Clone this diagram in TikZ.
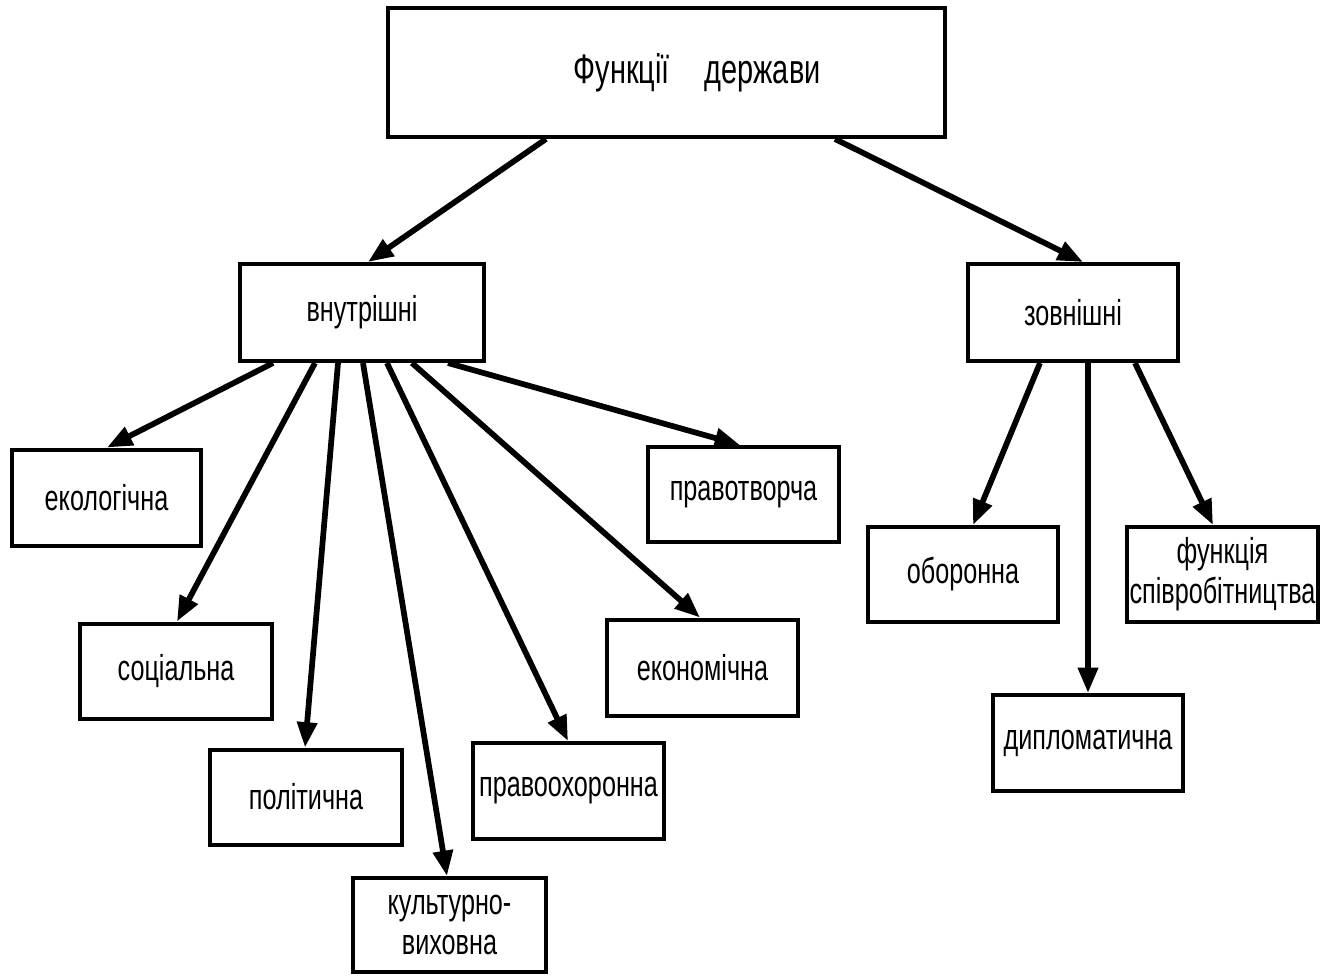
\documentclass[tikz,border=0pt]{standalone}
\usepackage{fontspec}
\setmainfont{Liberation Sans}[FakeStretch=0.7]
\usetikzlibrary{arrows.meta,calc}
\tikzset{
  box/.style={draw, line width=3pt, fill=white, inner sep=0pt, align=center,
    font=\fontsize{27}{30}\selectfont},
  arr/.style={line width=4.3pt, -{Triangle[length=19pt,width=14.5pt]}}
}
\begin{document}
\begin{tikzpicture}[x=0.75pt,y=-0.75pt]
\fill[white] (0,0) rectangle (1328,976);
\useasboundingbox (0,0) rectangle (1328,976);
\node[box, minimum width=417.75pt, minimum height=96.75pt, font=\fontsize{31}{34}\selectfont] (top) at (666.5,72.5) {\hspace*{46pt}Функції\hspace{26pt}держави};
\node[box, minimum width=183pt, minimum height=72.75pt] (vn) at (362,312.5) {внутрішні};
\node[box, minimum width=157.5pt, minimum height=72.75pt] (zv) at (1073,312.5) {зовнішні};
\node[box, minimum width=141.75pt, minimum height=72pt] (eko) at (106.5,497.5) {екологічна};
\node[box, minimum width=144pt, minimum height=71.25pt] (soc) at (176,671) {соціальна};
\node[box, minimum width=144pt, minimum height=71.25pt] (pol) at (306,797) {політична};
\node[box, minimum width=144.75pt, minimum height=70.5pt] (kult) at (449.5,925) {культурно-\\виховна};
\node[box, minimum width=143.25pt, minimum height=72pt] (pravooh) at (568.5,791) {правоохоронна};
\node[box, minimum width=143.25pt, minimum height=72pt] (ekon) at (702.5,667.5) {економічна};
\node[box, minimum width=143.25pt, minimum height=71.25pt] (pravotv) at (743.5,494.5) {правотворча};
\node[box, minimum width=142.5pt, minimum height=71.25pt] (obor) at (963,574.5) {оборонна};
\node[box, minimum width=143.25pt, minimum height=71.25pt] (func) at (1222.5,574.5) {функція\\співробітництва};
\node[box, minimum width=142.5pt, minimum height=72pt] (dipl) at (1088,743) {дипломатична};

\draw[arr] ($(top.south)+(-120.5,0)$) -- ($(vn.north)+(6,0)$);
\draw[arr] ($(top.south)+(168.5,0)$) -- ($(zv.north)+(10,0)$);

\draw[arr] ($(vn.south)+(-89,0)$) -- ($(eko.north)+(0.5,0)$);
\draw[arr] ($(vn.south)+(-47,0)$) -- ($(soc.north)+(1,0)$);
\draw[arr] ($(vn.south)+(-24,0)$) -- ($(pol.north)+(-1,0)$);
\draw[arr] ($(vn.south)+(1,0)$) -- ($(kult.north)+(-2.5,0)$);
\draw[arr] ($(vn.south)+(25,0)$) -- ($(pravooh.north)+(-0.5,0)$);
\draw[arr] ($(vn.south)+(50,0)$) -- ($(ekon.north)+(-2.5,0)$);
\draw[arr] ($(vn.south)+(86,0)$) -- ($(pravotv.north)+(-3.5,0)$);

\draw[arr] ($(zv.south)+(-33,0)$) -- ($(obor.north)+(10,0)$);
\draw[arr] ($(zv.south)+(15,0)$) -- ($(dipl.north)+(0,0)$);
\draw[arr] ($(zv.south)+(62,0)$) -- ($(func.north)+(-9.5,0)$);
\end{tikzpicture}
\end{document}
